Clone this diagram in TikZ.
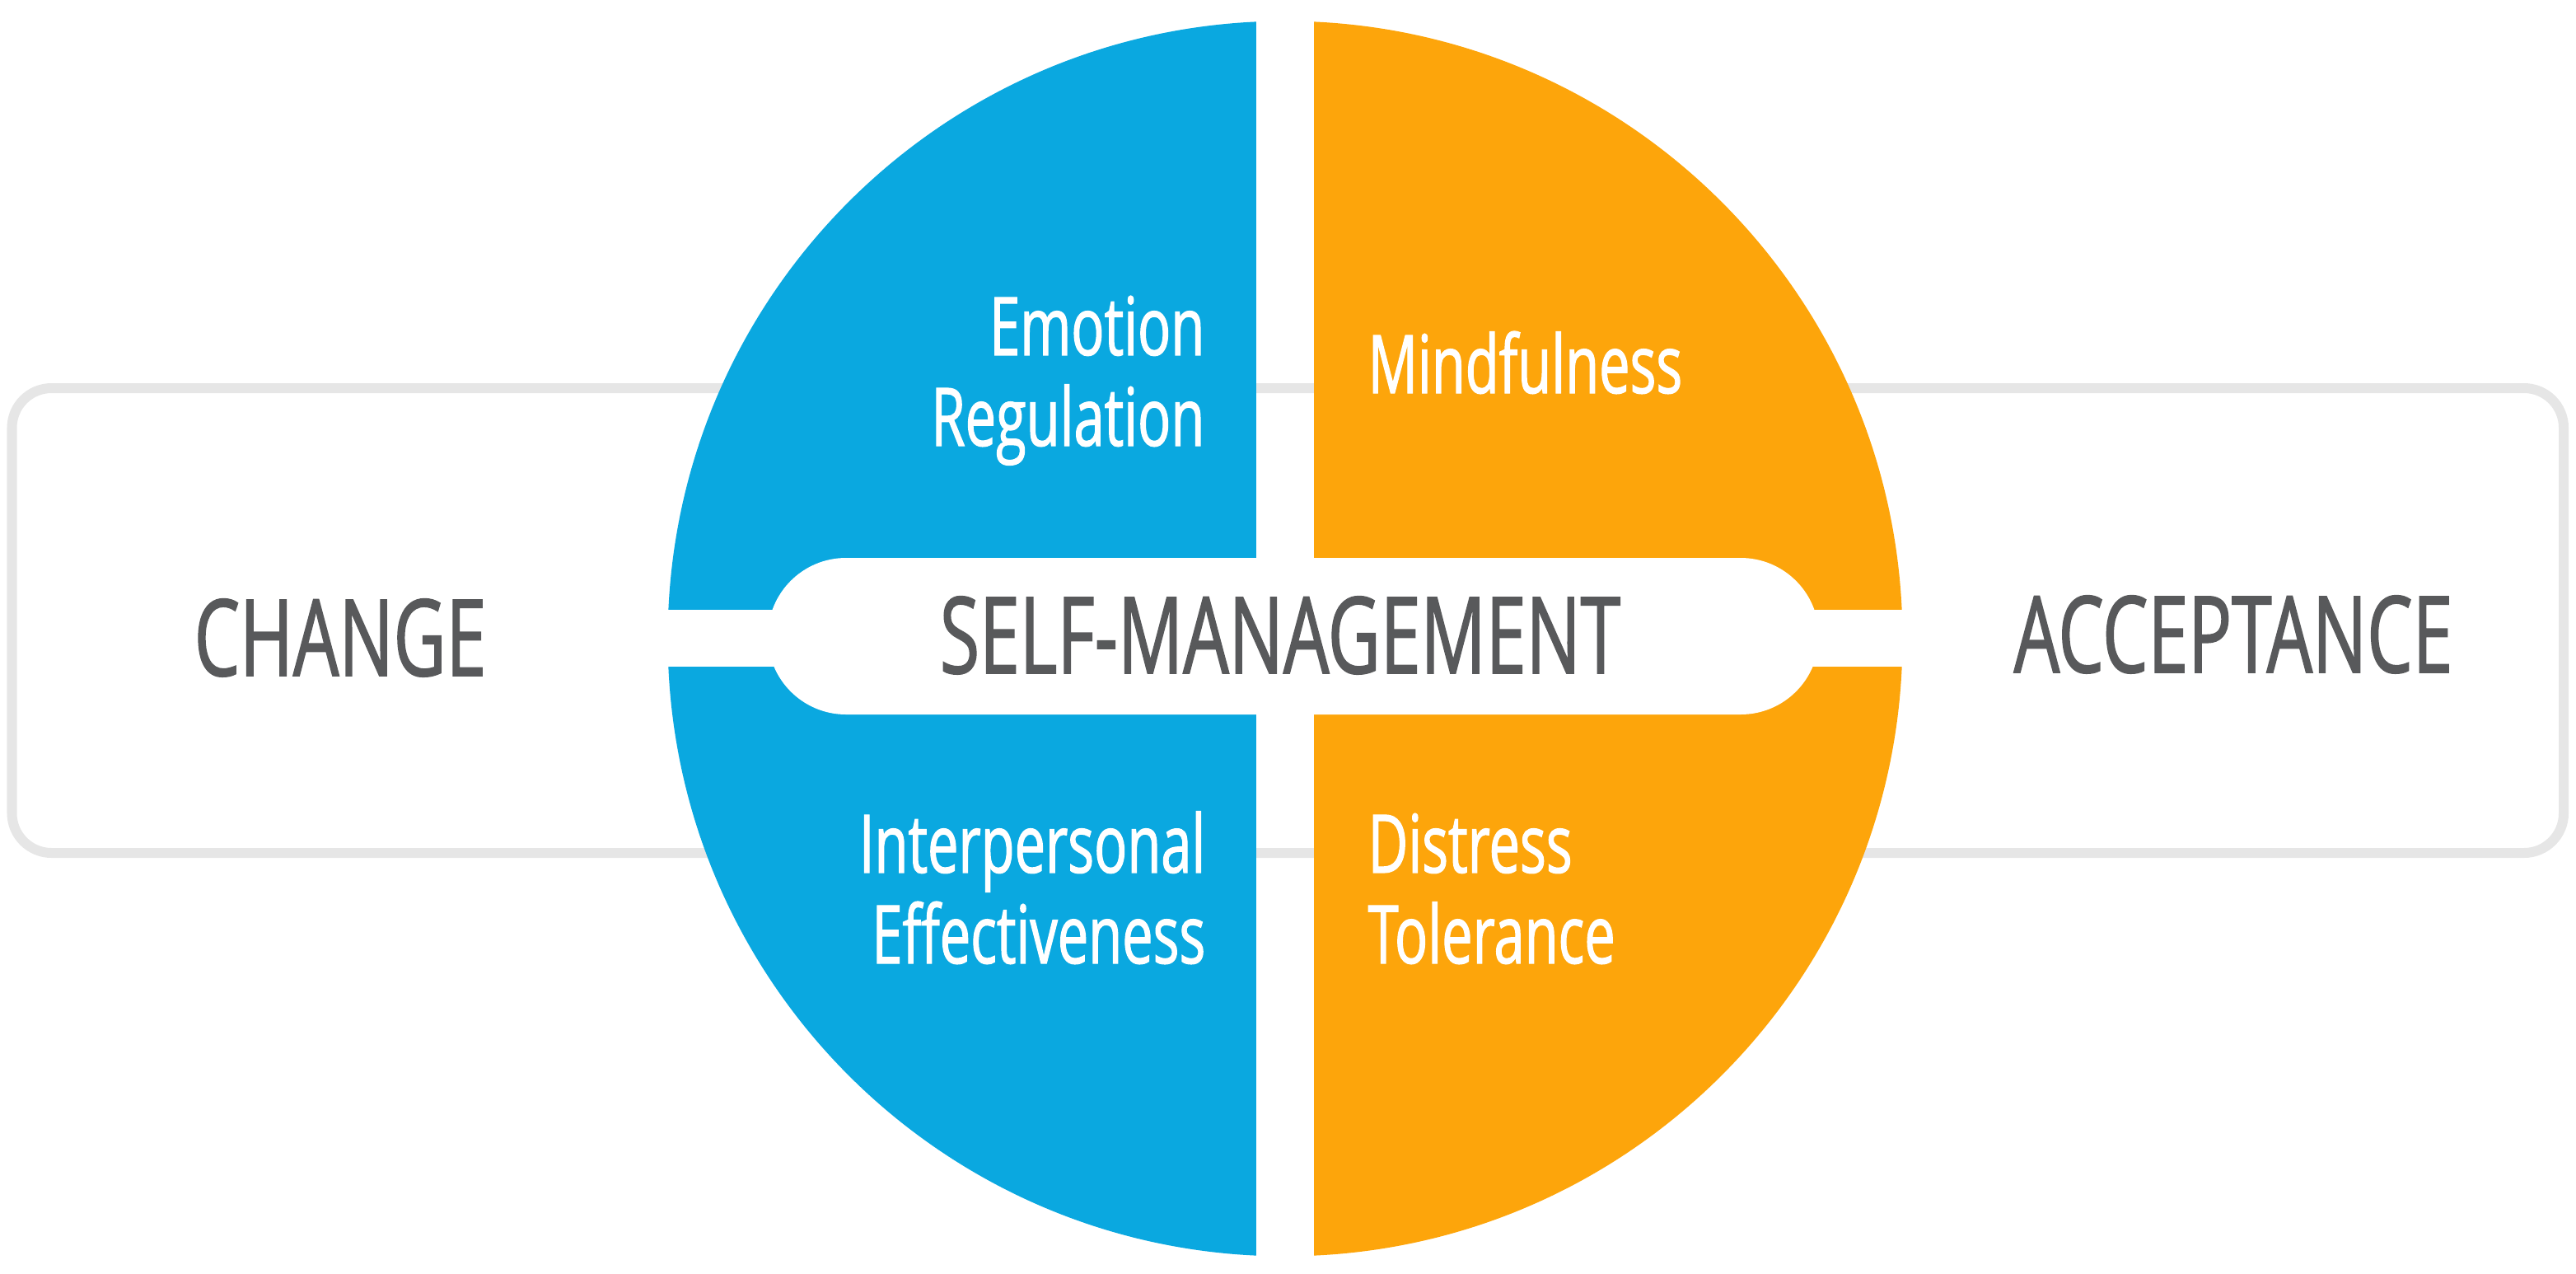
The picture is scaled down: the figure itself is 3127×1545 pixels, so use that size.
\documentclass[tikz,border=0pt]{standalone}
\usepackage{fontspec}
\setmainfont[FakeStretch=0.68, FakeBold=1.2]{Open Sans}

\definecolor{skillblue}{HTML}{0AA8E0}
\definecolor{skillorange}{HTML}{FDA50B}
\definecolor{labelgray}{HTML}{58595B}
\definecolor{framegray}{HTML}{E6E6E6}

\begin{document}
\begin{tikzpicture}[x=0.01cm, y=-0.01cm,
    skill/.style={text=white, inner sep=0pt, font=\fontsize{27.9}{31.3}\selectfont},
    pole/.style={text=labelgray, inner sep=0pt, font=\fontsize{36.7}{40}\selectfont}]
    \useasboundingbox (0,0) rectangle (3127,1545);

    % band behind the wheel
    \draw[framegray, line width=0.12cm, rounded corners=0.48cm] (14.5,471) rectangle (3112,1035);

    % the wheel, four quarters
    \coordinate (centre) at (1560,775);
    \begin{scope}
        \clip (centre) circle[radius=7.49cm];
        \fill[skillblue] (700,0) rectangle (1525,740);
        \fill[skillblue] (700,809) rectangle (1525,1545);
        \fill[skillorange] (1595,0) rectangle (2400,740);
        \fill[skillorange] (1595,809) rectangle (2400,1545);
    \end{scope}
    \fill[white, rounded corners=0.95cm] (932,677) rectangle (2208,867);

    \node[skill, anchor=base east, align=right] (emotion) at (1463,541) {Emotion\\Regulation};
    \node[skill, anchor=base west, align=left] (mindful) at (1660,477) {Mindfulness};
    \node[skill, anchor=base east, align=right] (interpersonal) at (1464,1169) {Interpersonal\\Effectiveness};
    \node[skill, anchor=base west, align=left] (distress) at (1660,1169) {Distress\\Tolerance};

    \node[pole, anchor=base] (self) at (1554,817) {SELF-MANAGEMENT};
    \node[pole, anchor=base] (change) at (413,820) {CHANGE};
    \node[pole, anchor=base] (accept) at (2711,816) {ACCEPTANCE};
\end{tikzpicture}
\end{document}
